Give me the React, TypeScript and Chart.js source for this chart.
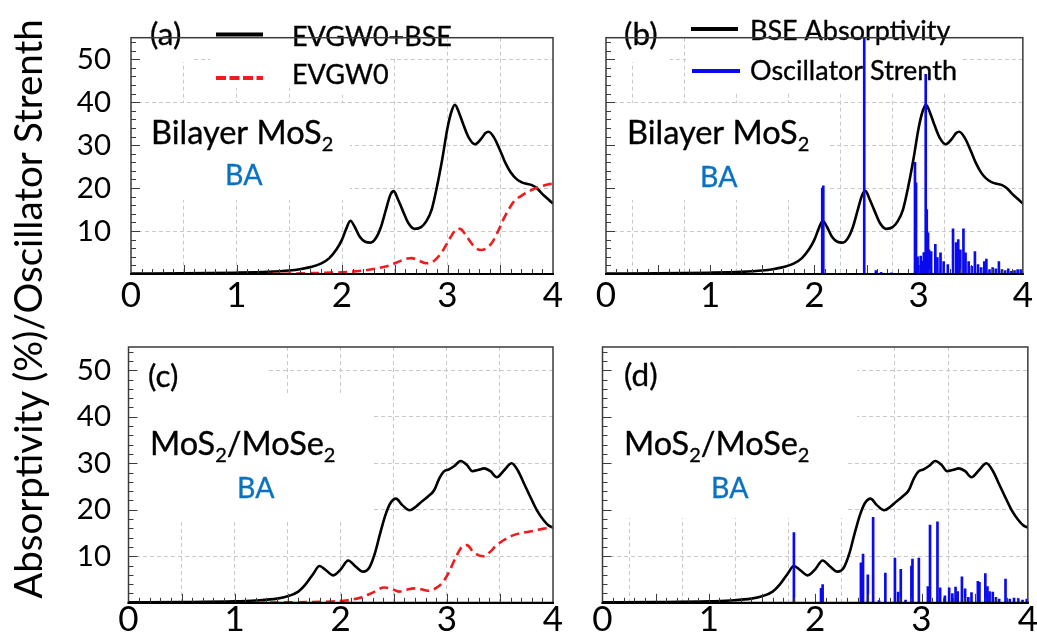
import React, { useEffect, useRef } from 'react';
import { Chart, registerables } from 'chart.js';

Chart.register(...registerables);

// ---------------- data ----------------
// Bilayer MoS2 : EVGW0+BSE absorptivity
const bilayerBseX = [0, 0.5, 1.0, 1.3, 1.5, 1.6, 1.7, 1.8, 1.88, 1.95, 2.0, 2.04, 2.08, 2.12, 2.17, 2.22, 2.27, 2.32, 2.37, 2.42, 2.46, 2.49, 2.53, 2.57, 2.63, 2.69, 2.75, 2.8, 2.85, 2.9, 2.95, 3.0, 3.04, 3.07, 3.11, 3.15, 3.2, 3.26, 3.32, 3.36, 3.39, 3.44, 3.5, 3.55, 3.6, 3.65, 3.7, 3.75, 3.8, 3.85, 3.9, 3.95, 4.0];
const bilayerBseY = [0.1, 0.15, 0.3, 0.5, 0.8, 1.1, 1.6, 2.4, 3.7, 5.8, 8.0, 10.5, 12.4, 11.0, 8.6, 7.5, 7.3, 8.3, 11.0, 15.3, 18.5, 19.3, 17.4, 15.1, 11.8, 10.5, 10.9, 12.3, 15.0, 20.3, 26.7, 34.0, 38.0, 39.4, 37.5, 34.8, 31.8, 30.2, 31.5, 32.8, 33.1, 31.8, 28.7, 25.8, 23.6, 22.2, 21.4, 21.0, 20.7, 19.9, 18.6, 17.5, 16.4];
// Bilayer MoS2 : EVGW0 (no excitonic effects)
const bilayerGwX = [1.3, 1.7, 2.0, 2.2, 2.35, 2.45, 2.55, 2.62, 2.66, 2.72, 2.8, 2.88, 2.96, 3.03, 3.08, 3.12, 3.17, 3.22, 3.27, 3.32, 3.38, 3.43, 3.48, 3.53, 3.58, 3.63, 3.7, 3.77, 3.84, 3.9, 3.96, 4.0];
const bilayerGwY = [0, 0.2, 0.4, 0.8, 1.4, 2.0, 3.0, 3.6, 3.7, 3.2, 2.5, 3.2, 5.6, 8.6, 10.3, 10.5, 9.2, 7.4, 6.0, 5.6, 6.2, 7.6, 10.0, 12.7, 15.0, 16.9, 18.2, 19.2, 20.0, 20.5, 20.9, 21.0];
// Bilayer MoS2 : oscillator strength
const bilayerOscX = [2.075, 2.085, 2.478, 2.59, 2.64, 2.74, 2.965, 2.975, 2.99, 3.0, 3.02, 3.035, 3.05, 3.068, 3.078, 3.09, 3.10, 3.12, 3.16, 3.18, 3.21, 3.24, 3.28, 3.33, 3.36, 3.38, 3.40, 3.43, 3.45, 3.48, 3.51, 3.54, 3.57, 3.60, 3.63, 3.65, 3.68, 3.71, 3.74, 3.77, 3.80, 3.83, 3.86, 3.89, 3.92, 3.95, 3.98];
const bilayerOscY = [20.0, 20.5, 70, 0.8, 0.4, 0.3, 26.0, 21.2, 4.0, 2.0, 4.2, 3.0, 5.0, 46.5, 15.0, 9.6, 5.6, 5.2, 6.9, 3.8, 4.9, 2.9, 2.2, 10.5, 7.3, 8.0, 5.6, 10.5, 4.9, 2.9, 1.8, 5.2, 2.2, 1.5, 2.9, 3.5, 1.0, 1.5, 1.2, 2.9, 1.0, 0.8, 1.2, 0.6, 0.8, 1.0, 1.0];

// MoS2/MoSe2 : EVGW0+BSE absorptivity
const heteroBseX = [0, 0.5, 1.0, 1.2, 1.4, 1.5, 1.6, 1.67, 1.74, 1.8, 1.86, 1.93, 2.0, 2.07, 2.14, 2.21, 2.27, 2.32, 2.37, 2.42, 2.47, 2.52, 2.58, 2.65, 2.71, 2.76, 2.82, 2.88, 2.93, 2.97, 3.02, 3.07, 3.13, 3.19, 3.24, 3.3, 3.35, 3.41, 3.47, 3.54, 3.61, 3.67, 3.73, 3.79, 3.85, 3.91, 3.96, 4.0];
const heteroBseY = [0.1, 0.15, 0.3, 0.5, 0.9, 1.4, 2.4, 4.0, 6.2, 7.9, 7.0, 5.9, 7.2, 9.1, 7.8, 6.7, 7.6, 10.5, 14.8, 18.8, 21.5, 22.4, 21.0, 19.9, 20.7, 21.7, 22.8, 24.2, 26.8, 28.2, 28.7, 29.4, 30.5, 29.6, 28.3, 28.6, 28.9, 28.3, 27.0, 28.5, 30.0, 28.4, 25.5, 22.6, 19.8, 17.8, 16.6, 16.2];
// MoS2/MoSe2 : EVGW0
const heteroGwX = [1.2, 1.5, 1.8, 2.05, 2.2, 2.3, 2.41, 2.48, 2.55, 2.62, 2.69, 2.76, 2.82, 2.9, 2.96, 3.02, 3.08, 3.14, 3.19, 3.24, 3.3, 3.35, 3.41, 3.46, 3.53, 3.61, 3.7, 3.8, 3.9, 4.0];
const heteroGwY = [0, 0.1, 0.2, 0.5, 1.2, 2.2, 3.3, 3.0, 2.4, 2.8, 3.1, 2.9, 2.6, 3.2, 4.4, 6.6, 9.6, 12.0, 12.4, 11.2, 10.2, 10.0, 11.0, 12.2, 13.4, 14.4, 15.0, 15.4, 15.9, 16.2];
// MoS2/MoSe2 : oscillator strength
const heteroOscX = [1.80, 2.055, 2.07, 2.43, 2.45, 2.495, 2.545, 2.6, 2.66, 2.75, 2.78, 2.805, 2.85, 2.905, 2.915, 2.975, 3.06, 3.08, 3.15, 3.175, 3.22, 3.26, 3.29, 3.32, 3.34, 3.38, 3.41, 3.44, 3.47, 3.53, 3.545, 3.60, 3.62, 3.64, 3.67, 3.70, 3.73, 3.79, 3.83, 3.87, 3.91, 3.95, 3.99];
const heteroOscY = [15.1, 3.1, 3.9, 8.6, 10.5, 6.0, 18.4, 0.5, 6.4, 9.6, 2.3, 7.2, 0.6, 7.9, 9.4, 9.6, 3.5, 16.7, 17.4, 3.2, 1.5, 3.2, 2.0, 3.4, 2.4, 5.6, 3.0, 1.2, 2.2, 4.6, 4.4, 6.3, 3.5, 2.4, 2.3, 1.2, 0.8, 5.1, 0.8, 1.0, 0.9, 0.6, 0.8];

const xTickLabels = [0, 1, 2, 3, 4];
const yTickLabels = [10, 20, 30, 40, 50];

const yTitle = 'Absorptivity (%)/Oscillator Strenth';

// ---------------- styling ----------------
const FONT = 'Lato, "Open Sans", sans-serif';
const W = 1037;
const H = 638;
const BLACK = '#000000';
const RED = '#ee1c1c';
const BLUE = '#0a0af0';
const BA_BLUE = '#0a72c0';
const GRID = '#c9c9c9';

const pairs = (xs: number[], ys: number[]) => xs.map((x, i) => ({ x, y: ys[i] }));

type Run = { t: string; size: number; dy?: number };
type TextItem = { x: number; y: number; runs: Run[]; color?: string };
type Sample = { x0: number; x1: number; y: number; color: string; width: number; dash?: number[] };

const MAIN = 32.5;
const SUB = 20;
const sub = (main: string, s: string): Run[] => [{ t: main, size: MAIN }, { t: s, size: SUB, dy: 7 }];
const hetero = (): Run[] => [
  { t: 'MoS', size: MAIN }, { t: '2', size: SUB, dy: 7 }, { t: '/MoSe', size: MAIN }, { t: '2', size: SUB, dy: 7 },
];

type Panel = {
  L: number; T: number; R: number; B: number;
  showY: boolean; yPad: number; xPad: number;
  datasets: any[];
  boxes: number[][];
  texts: TextItem[];
  samples: Sample[];
};

const lineDs = (xs: number[], ys: number[], color: string, dash?: number[]) => ({
  type: 'line',
  data: pairs(xs, ys),
  borderColor: color,
  borderWidth: 2.6,
  borderDash: dash || [],
  pointRadius: 0,
  fill: false,
  cubicInterpolationMode: 'monotone',
});
const barDs = (xs: number[], ys: number[]) => ({
  type: 'bar',
  data: pairs(xs, ys),
  backgroundColor: BLUE,
  borderWidth: 0,
  barThickness: 2,
  grouped: false,
});

const LEG = 27;
const LABEL = 31.5;

const panels: Panel[] = [
  {
    L: 131, T: 4, R: 553, B: 274, showY: true, yPad: 20, xPad: 4,
    datasets: [lineDs(bilayerGwX, bilayerGwY, RED, [9, 5]), lineDs(bilayerBseX, bilayerBseY, BLACK)],
    boxes: [[132, 5, 194, 62], [210, 5, 290, 88], [290, 5, 446, 56], [290, 56, 386, 95], [132, 103, 350, 200]],
    texts: [
      { x: 150, y: 45, runs: [{ t: '(a)', size: LABEL }] },
      { x: 292, y: 46, runs: [{ t: 'EVGW0+BSE', size: LEG }] },
      { x: 292, y: 84, runs: [{ t: 'EVGW0', size: LEG }] },
      { x: 151, y: 143.5, runs: sub('Bilayer MoS', '2') },
      { x: 225, y: 185, runs: [{ t: 'BA', size: 28.5 }], color: BA_BLUE },
    ],
    samples: [
      { x0: 216, x1: 263, y: 34.5, color: BLACK, width: 4 },
      { x0: 216, x1: 263, y: 78, color: RED, width: 4, dash: [10, 3.5] },
    ],
  },
  {
    L: 606, T: 6.7, R: 1029, B: 274, showY: false, yPad: 20, xPad: 4,
    datasets: [barDs(bilayerOscX, bilayerOscY), lineDs(bilayerBseX, bilayerBseY, BLACK)],
    boxes: [[607, 8, 670, 62], [686, 8, 748, 92], [748, 8, 946, 54], [748, 54, 960, 92], [607, 103, 830, 200]],
    texts: [
      { x: 624, y: 45, runs: [{ t: '(b)', size: LABEL }] },
      { x: 750, y: 40, runs: [{ t: 'BSE Absorptivity', size: LEG }] },
      { x: 750, y: 80, runs: [{ t: 'Oscillator Strenth', size: LEG }] },
      { x: 627, y: 143.5, runs: sub('Bilayer MoS', '2') },
      { x: 700, y: 186.5, runs: [{ t: 'BA', size: 28.5 }], color: BA_BLUE },
    ],
    samples: [
      { x0: 691, x1: 738, y: 29, color: BLACK, width: 4 },
      { x0: 692, x1: 740, y: 71, color: BLUE, width: 4 },
    ],
  },
  {
    L: 128.5, T: 347, R: 553, B: 604, showY: true, yPad: 17.5, xPad: -1,
    datasets: [lineDs(heteroGwX, heteroGwY, RED, [9, 5]), lineDs(heteroBseX, heteroBseY, BLACK)],
    boxes: [[129, 348, 267, 395], [129, 395, 373, 520]],
    texts: [
      { x: 148, y: 387, runs: [{ t: '(c)', size: LABEL }] },
      { x: 150, y: 455, runs: hetero() },
      { x: 237, y: 498, runs: [{ t: 'BA', size: 28.5 }], color: BA_BLUE },
    ],
    samples: [],
  },
  {
    L: 602.5, T: 347, R: 1029, B: 603, showY: false, yPad: 17.5, xPad: -1,
    datasets: [barDs(heteroOscX, heteroOscY), lineDs(heteroBseX, heteroBseY, BLACK)],
    boxes: [[603, 348, 857, 440], [603, 440, 848, 518]],
    texts: [
      { x: 624, y: 386, runs: [{ t: '(d)', size: LABEL }] },
      { x: 624, y: 455, runs: hetero() },
      { x: 711, y: 498, runs: [{ t: 'BA', size: 28.5 }], color: BA_BLUE },
    ],
    samples: [],
  },
];

const Y_AXIS_W = 60;
const X_AXIS_H = 40;

function makeDecor(p: Panel) {
  return {
    id: 'decor',
    beforeDatasetsDraw(chart: any) {
      const ctx = chart.ctx as CanvasRenderingContext2D;
      ctx.save();
      ctx.fillStyle = '#ffffff';
      for (const b of p.boxes) ctx.fillRect(b[0], b[1], b[2] - b[0], b[3] - b[1]);
      ctx.textBaseline = 'alphabetic';
      ctx.textAlign = 'left';
      for (const t of p.texts) {
        let x = t.x;
        ctx.fillStyle = t.color || '#000';
        ctx.strokeStyle = t.color || '#000';
        ctx.lineWidth = 0.35;
        for (const r of t.runs) {
          ctx.font = `${r.size}px ${FONT}`;
          ctx.fillText(r.t, x, t.y + (r.dy || 0));
          ctx.strokeText(r.t, x, t.y + (r.dy || 0));
          x += ctx.measureText(r.t).width;
        }
      }
      for (const s of p.samples) {
        ctx.beginPath();
        ctx.setLineDash(s.dash || []);
        ctx.strokeStyle = s.color;
        ctx.lineWidth = s.width;
        ctx.moveTo(s.x0, s.y);
        ctx.lineTo(s.x1, s.y);
        ctx.stroke();
      }
      ctx.restore();
    },
    afterDraw(chart: any) {
      const ctx = chart.ctx as CanvasRenderingContext2D;
      const { left, right, top, bottom } = chart.chartArea;
      const xs = chart.scales.x;
      const ys = chart.scales.y;
      ctx.save();
      ctx.setLineDash([]);
      ctx.strokeStyle = '#3c3c3c';
      ctx.lineWidth = 1;
      ctx.beginPath();
      // y ticks (every 2, major every 10), pointing inwards
      for (let v = 2; v <= 54; v += 2) {
        const py = Math.round(ys.getPixelForValue(v)) + 0.5;
        const len = v % 10 === 0 ? 9 : 5;
        ctx.moveTo(left, py);
        ctx.lineTo(left + len, py);
      }
      // x ticks (every 0.1, major every 0.5)
      for (let k = 1; k < 40; k++) {
        const px = Math.round(xs.getPixelForValue(k / 10)) + 0.5;
        const len = k % 5 === 0 ? 9 : 5;
        ctx.moveTo(px, bottom);
        ctx.lineTo(px, bottom - len);
      }
      ctx.stroke();
      // frame
      ctx.strokeStyle = '#3a3a3a';
      ctx.lineWidth = 1.5;
      ctx.strokeRect(left, top, right - left, bottom - top);
      ctx.strokeStyle = '#000';
      ctx.lineWidth = 2.2;
      ctx.beginPath();
      ctx.moveTo(left - 1, bottom);
      ctx.lineTo(right + 1, bottom);
      ctx.stroke();
      ctx.restore();
    },
  };
}

function PanelChart({ p }: { p: Panel }) {
  const ref = useRef<HTMLCanvasElement>(null);
  useEffect(() => {
    if (!ref.current) return;
    const chart = new Chart(ref.current, {
      type: 'line',
      data: { datasets: p.datasets as any },
      options: {
        responsive: false,
        animation: false,
        events: [],
        layout: {
          autoPadding: false,
          padding: { left: p.L - Y_AXIS_W, top: p.T, right: W - p.R, bottom: H - p.B - X_AXIS_H },
        },
        plugins: { legend: { display: false }, tooltip: { enabled: false } },
        scales: {
          x: {
            type: 'linear',
            min: 0,
            max: 4,
            offset: false,
            afterFit: (s: any) => { s.height = X_AXIS_H; },
            border: { display: false, dash: [4, 3] },
            grid: {
              drawTicks: false,
              lineWidth: 1,
              color: (c: any) => (c.tick && (c.tick.value <= 0 || c.tick.value >= 4) ? 'rgba(0,0,0,0)' : GRID),
            },
            ticks: {
              stepSize: 0.5,
              autoSkip: false,
              maxRotation: 0,
              padding: p.xPad,
              color: '#000',
              font: { family: FONT, size: 35, lineHeight: 1 },
              callback: (v: any) => (xTickLabels.includes(Number(v)) ? String(v) : ''),
            },
          },
          y: {
            type: 'linear',
            min: 0,
            max: 55,
            afterFit: (s: any) => { s.width = Y_AXIS_W; },
            border: { display: false, dash: [4, 3] },
            grid: {
              drawTicks: false,
              lineWidth: 1,
              color: (c: any) => (c.tick && c.tick.value > 0 && c.tick.value < 55 ? GRID : 'rgba(0,0,0,0)'),
            },
            ticks: {
              stepSize: 10,
              includeBounds: false,
              padding: p.yPad,
              color: '#000',
              font: { family: FONT, size: 29.5 },
              callback: (v: any) => (p.showY && yTickLabels.includes(Number(v)) ? String(v) : ''),
            },
          },
        },
      } as any,
      plugins: [makeDecor(p)],
    });
    return () => chart.destroy();
  }, [p]);
  return (
    <canvas
      ref={ref}
      width={W}
      height={H}
      style={{ position: 'absolute', left: 0, top: 0, width: W, height: H }}
    />
  );
}

export default function App() {
  return (
    <div style={{ position: 'absolute', left: 0, top: 0, width: W, height: H, background: '#fff', overflow: 'hidden' }}>
      {panels.map((p, i) => (
        <PanelChart key={i} p={p} />
      ))}
      <div
        style={{
          position: 'absolute',
          left: 26.5 - 320,
          top: 309 - 19,
          width: 640,
          height: 38,
          lineHeight: '38px',
          fontSize: 38.5,
          fontFamily: FONT,
          color: '#000',
          textAlign: 'center',
          whiteSpace: 'nowrap',
          transform: 'rotate(-90deg)',
          transformOrigin: '50% 50%',
        }}
      >
        {yTitle}
      </div>
    </div>
  );
}
